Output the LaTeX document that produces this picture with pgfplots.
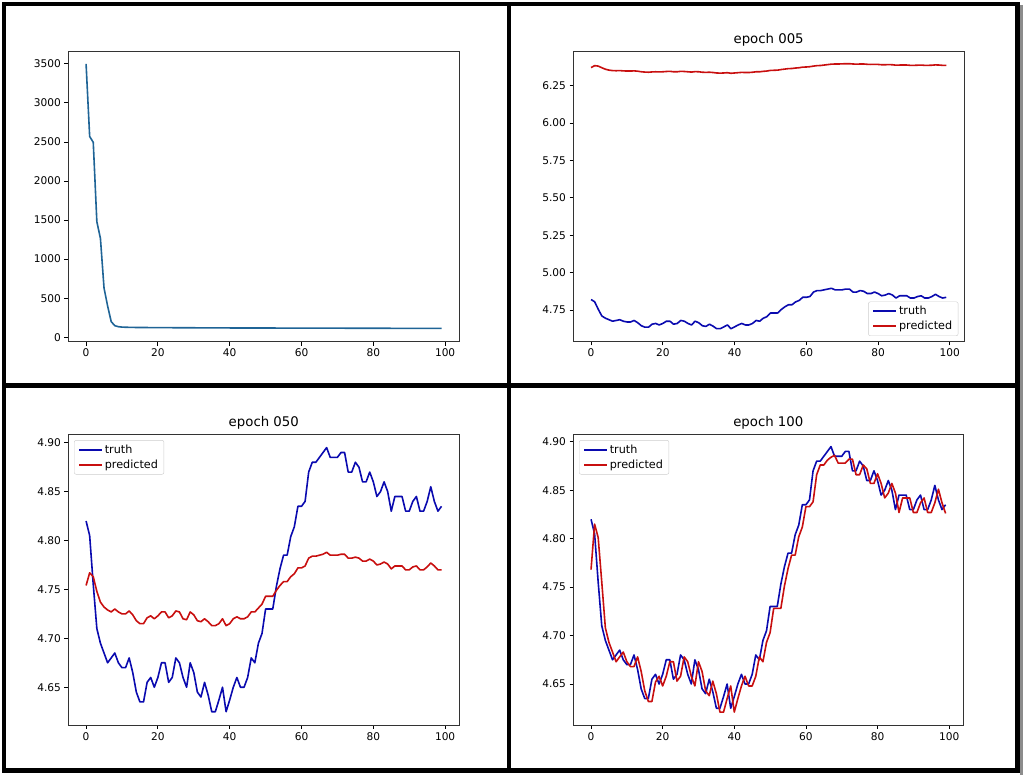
\documentclass[border=0pt]{standalone}
\usepackage{fontspec}
\setmainfont{DejaVu Sans}
\usepackage{pgfplots}
\pgfplotsset{compat=1.18}
\usepackage{pgfplotstable}

\definecolor{losscol}{RGB}{31,100,150}
\definecolor{truthcol}{RGB}{10,10,175}
\definecolor{predcol}{RGB}{200,15,15}

\pgfplotstableread{
x loss
0 3500
1 2570
2 2495
3 1480
4 1265
5 630
6 400
7 200
8 148
9 135
10 130
11 128
12 127
13 126
14 125
15 125
20 123
30 121
40 119
50 118
60 117
70 116
80 115
90 114
99 113
}\losstable

\pgfplotstableread{
x truth p005 p050 p100
0 4.820 6.371 4.754 4.768
1 4.805 6.384 4.767 4.815
2 4.755 6.381 4.763 4.801
3 4.710 6.370 4.748 4.755
4 4.695 6.360 4.737 4.708
5 4.685 6.354 4.732 4.693
6 4.675 6.351 4.729 4.683
7 4.680 6.350 4.727 4.673
8 4.685 6.351 4.730 4.678
9 4.675 6.349 4.727 4.683
10 4.670 6.348 4.725 4.673
11 4.670 6.348 4.725 4.668
12 4.680 6.349 4.728 4.668
13 4.665 6.347 4.724 4.678
14 4.645 6.343 4.718 4.663
15 4.635 6.341 4.715 4.643
16 4.635 6.340 4.715 4.632
17 4.655 6.342 4.721 4.632
18 4.660 6.343 4.723 4.652
19 4.650 6.342 4.720 4.658
20 4.660 6.343 4.723 4.648
21 4.675 6.345 4.727 4.658
22 4.675 6.346 4.727 4.673
23 4.655 6.343 4.721 4.673
24 4.660 6.343 4.723 4.653
25 4.680 6.346 4.728 4.658
26 4.675 6.345 4.727 4.678
27 4.660 6.343 4.720 4.673
28 4.650 6.341 4.719 4.658
29 4.675 6.344 4.727 4.648
30 4.665 6.343 4.724 4.673
31 4.645 6.340 4.718 4.663
32 4.640 6.339 4.717 4.643
33 4.655 6.340 4.720 4.638
34 4.642 6.338 4.717 4.653
35 4.625 6.335 4.713 4.640
36 4.625 6.334 4.713 4.621
37 4.637 6.335 4.715 4.621
38 4.650 6.337 4.720 4.635
39 4.625 6.333 4.713 4.648
40 4.637 6.335 4.715 4.621
41 4.650 6.337 4.720 4.635
42 4.660 6.339 4.722 4.648
43 4.650 6.338 4.720 4.658
44 4.650 6.338 4.720 4.648
45 4.660 6.340 4.722 4.648
46 4.680 6.343 4.727 4.658
47 4.675 6.343 4.727 4.678
48 4.695 6.346 4.731 4.673
49 4.705 6.348 4.735 4.693
50 4.730 6.352 4.743 4.703
51 4.730 6.353 4.743 4.728
52 4.730 6.354 4.743 4.728
53 4.753 6.358 4.749 4.728
54 4.771 6.361 4.754 4.751
55 4.785 6.364 4.758 4.769
56 4.785 6.365 4.758 4.783
57 4.804 6.368 4.763 4.783
58 4.814 6.370 4.766 4.802
59 4.835 6.374 4.772 4.812
60 4.835 6.375 4.772 4.833
61 4.840 6.377 4.774 4.833
62 4.870 6.381 4.782 4.838
63 4.880 6.384 4.784 4.866
64 4.880 6.385 4.784 4.876
65 4.885 6.388 4.785 4.876
66 4.890 6.391 4.786 4.881
67 4.895 6.394 4.788 4.884
68 4.885 6.395 4.785 4.886
69 4.885 6.395 4.785 4.878
70 4.885 6.396 4.785 4.878
71 4.890 6.397 4.786 4.878
72 4.890 6.397 4.786 4.882
73 4.870 6.395 4.782 4.882
74 4.870 6.394 4.782 4.866
75 4.880 6.395 4.783 4.866
76 4.875 6.395 4.782 4.876
77 4.860 6.393 4.779 4.872
78 4.860 6.392 4.779 4.857
79 4.870 6.393 4.781 4.857
80 4.860 6.392 4.779 4.867
81 4.845 6.390 4.775 4.857
82 4.850 6.390 4.776 4.842
83 4.860 6.391 4.778 4.847
84 4.850 6.390 4.776 4.857
85 4.830 6.387 4.771 4.847
86 4.845 6.388 4.774 4.827
87 4.845 6.388 4.774 4.842
88 4.845 6.388 4.774 4.842
89 4.830 6.386 4.770 4.842
90 4.830 6.386 4.770 4.827
91 4.840 6.387 4.773 4.827
92 4.845 6.388 4.774 4.837
93 4.830 6.386 4.770 4.842
94 4.830 6.386 4.770 4.827
95 4.840 6.387 4.773 4.827
96 4.855 6.389 4.777 4.837
97 4.840 6.388 4.774 4.851
98 4.830 6.386 4.770 4.837
99 4.835 6.386 4.770 4.826
}\datatable

\pgfplotsset{
  panel/.style={
    scale only axis,
    xmin=-4.95, xmax=103.95,
    xtick={0,20,40,60,80,100},
    tick align=outside,
    xtick pos=bottom, ytick pos=left,
    major tick length=3.8pt,
    every tick/.style={black, line width=0.8pt},
    axis line style={line width=0.8pt, black!80},
    tick label style={font=\fontsize{10.6}{12}\selectfont},
    /pgf/number format/assume math mode=true,
    title style={font=\fontsize{13.3}{15}\selectfont, yshift=-5pt},
    legend style={font=\fontsize{11.2}{13}\selectfont, draw=black!20, rounded corners=2pt,
      fill=white, inner xsep=4pt, inner ysep=2.5pt,
      row sep=1pt, cells={anchor=west}},
    legend image code/.code={\draw[#1, line width=1.6pt] (0pt,0pt) -- (23pt,0pt);},
    every axis plot/.append style={line width=1.6pt, line join=round},
  },
  yfix/.style={yticklabel style={/pgf/number format/.cd, fixed, fixed zerofill, precision=2}},
}

\begin{document}
\begin{tikzpicture}
\path[use as bounding box] (0pt,0pt) rectangle (1024pt,777pt);

% panel 1: loss
\begin{axis}[panel, at={(68.3pt,435.3pt)}, anchor=south west,
  width=391pt, height=290.7pt,
  ymin=-57, ymax=3664,
  ytick={0,500,...,3500},
  yticklabel style={/pgf/number format/.cd, fixed, set thousands separator={}}]
\addplot[losscol] table[x=x, y=loss] {\losstable};
\end{axis}

% panel 2: epoch 005
\begin{axis}[panel, yfix, at={(573.3pt,435.3pt)}, anchor=south west,
  width=390.7pt, height=290.7pt,
  ymin=4.538, ymax=6.482,
  ytick={4.75,5.00,5.25,5.50,5.75,6.00,6.25},
  title={epoch 005},
  legend style={at={(0.9855,0.0196)}, anchor=south east}]
\addplot[truthcol, line width=1.6pt] table[x=x, y=truth] {\datatable};
\addlegendentry{truth}
\addplot[predcol, line width=1.6pt] table[x=x, y=p005] {\datatable};
\addlegendentry{predicted}
\end{axis}

% panel 3: epoch 050
\begin{axis}[panel, yfix, at={(68.3pt,52pt)}, anchor=south west,
  width=391pt, height=291pt,
  ymin=4.6114, ymax=4.9089,
  ytick={4.65,4.70,4.75,4.80,4.85,4.90},
  title={epoch 050},
  legend style={at={(0.0146,0.979)}, anchor=north west}]
\addplot[truthcol, line width=1.6pt] table[x=x, y=truth] {\datatable};
\addlegendentry{truth}
\addplot[predcol, line width=1.6pt] table[x=x, y=p050] {\datatable};
\addlegendentry{predicted}
\end{axis}

% panel 4: epoch 100
\begin{axis}[panel, yfix, at={(573.3pt,52pt)}, anchor=south west,
  width=390pt, height=291pt,
  ymin=4.6077, ymax=4.908,
  ytick={4.65,4.70,4.75,4.80,4.85,4.90},
  title={epoch 100},
  legend style={at={(0.0146,0.979)}, anchor=north west}]
\addplot[truthcol, line width=1.6pt] table[x=x, y=truth] {\datatable};
\addlegendentry{truth}
\addplot[predcol, line width=1.6pt] table[x=x, y=p100] {\datatable};
\addlegendentry{predicted}
\end{axis}

% frames
\fill[black!45] (1020pt,2pt) rectangle (1023pt,772pt);
\fill[black] (2pt,771pt) rectangle (1020pt,775pt);
\fill[black] (2pt,4pt) rectangle (1020pt,9pt);
\fill[black] (2pt,4pt) rectangle (6pt,775pt);
\fill[black] (1015pt,4pt) rectangle (1020pt,775pt);
\fill[black] (507pt,4pt) rectangle (511pt,775pt);
\fill[black] (2pt,389pt) rectangle (1020pt,394pt);
\end{tikzpicture}
\end{document}
